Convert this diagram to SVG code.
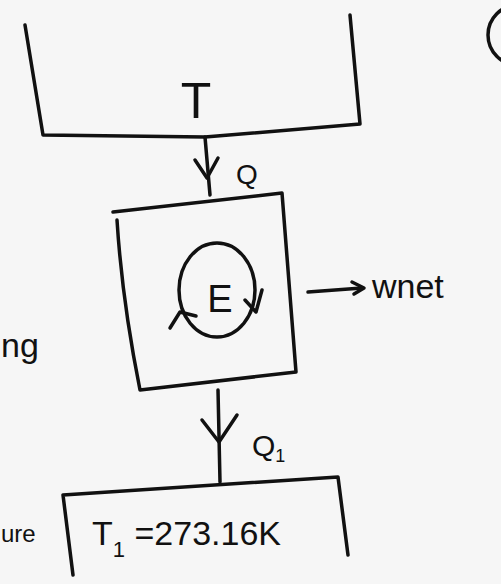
<svg xmlns="http://www.w3.org/2000/svg" width="501" height="584" viewBox="0 0 501 584">
<style>
.ln{fill:none;stroke:#111;stroke-width:3.5;stroke-linecap:round;stroke-linejoin:round}
.tx{font-family:"Liberation Sans","DejaVu Sans",sans-serif;fill:#111}
</style>
<rect width="501" height="584" fill="#f6f6f6"/>
<g id="hot-reservoir">
<path class="ln" d="M25,25 L43,135 L205,137 L360,124 L350,15"/>
<text class="tx" x="196" y="118" font-size="50" text-anchor="middle">T</text>
</g>
<g id="engine">
<path class="ln" d="M113,212 L282,193 L296,372 L140,390 Q122,300 117,220"/>
<ellipse class="ln" cx="217" cy="290" rx="38" ry="47" stroke-width="3"/>
<text class="tx" x="220" y="312" font-size="38" text-anchor="middle">E</text>
<path class="ln" d="M245,300 L256,312 L262,290" stroke-width="2.5"/>
<path class="ln" d="M170,328 L180,312 L196,316" stroke-width="2.5"/>
</g>
<g id="cold-reservoir">
<path class="ln" d="M73,575 L63,495 L338,477 L348,555"/>
<text class="tx" x="92" y="545" font-size="34">T<tspan font-size="22" dy="12">1</tspan><tspan dy="-12"> =273.16K</tspan></text>
</g>
<g id="connectors">
<path class="ln" d="M205,137 L210,195"/>
<path class="ln" d="M195,160 L207,178 L218,158"/>
<text class="tx" x="236" y="184" font-size="28">Q</text>
<path class="ln" d="M218,390 L220,482"/>
<path class="ln" d="M202,420 L219,442 L237,415"/>
<text class="tx" x="252" y="456" font-size="30">Q<tspan font-size="18" dy="6">1</tspan></text>
<path class="ln" d="M308,292 L362,288"/>
<path class="ln" d="M352,282 L364,288 L354,294" stroke-width="3"/>
<text class="tx" x="372" y="298" font-size="34">wnet</text>
</g>
<g id="margin">
<text class="tx" x="1" y="357" font-size="34">ng</text>
<text class="tx" x="1" y="542" font-size="24">ure</text>
<circle class="ln" cx="518" cy="35" r="30" stroke-width="3"/>
</g>
</svg>
